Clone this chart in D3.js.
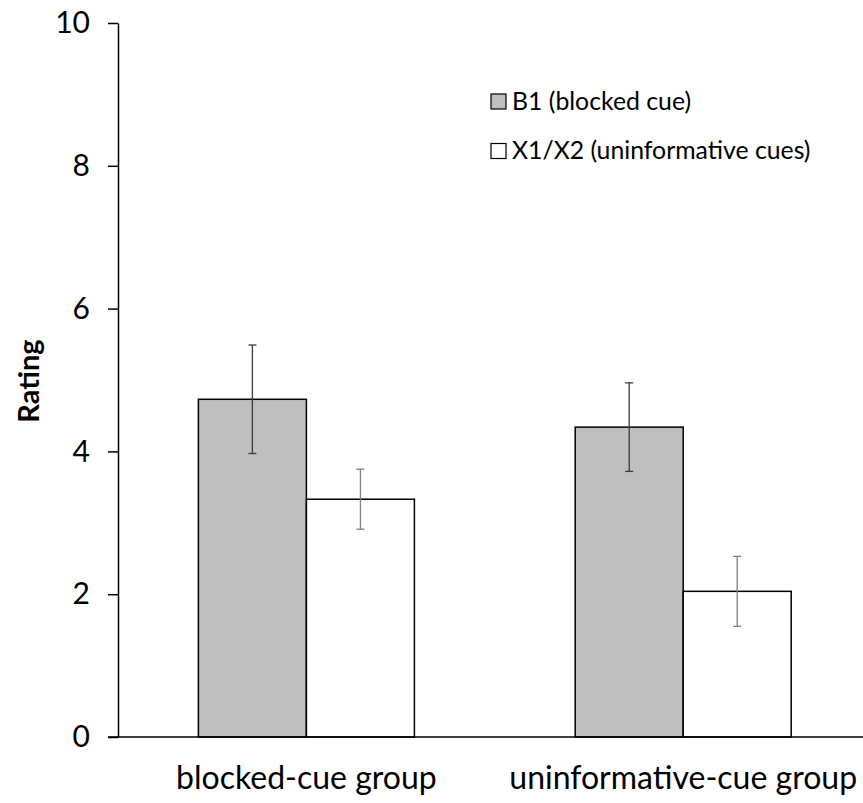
<!DOCTYPE html>
<html><head><meta charset="utf-8">
<script src="https://cdn.jsdelivr.net/npm/d3@7"></script>
<style>body{margin:0;background:#fff}svg{display:block}text{font-family:Lato,"Open Sans",sans-serif;fill:#000}</style>
</head><body>
<script>
const categories = ["blocked-cue group", "uninformative-cue group"];
const seriesNames = ["B1 (blocked cue)", "X1/X2 (uninformative cues)"];
const b1Values = [4.73, 4.34];
const b1Errors = [0.76, 0.62];
const xValues = [3.33, 2.04];
const xErrors = [0.42, 0.49];
const yTicks = [0, 2, 4, 6, 8, 10];
const yLabel = "Rating";

(function () {
const W = 863, H = 803;
const svg = d3.select("body").append("svg").attr("width", W).attr("height", H);
const mLeft = 118, mRight = 871.6, mTop = 23, mBottom = 737;

const x = d3.scaleBand().domain(categories).range([mLeft, mRight]).paddingInner(0).paddingOuter(0);
const y = d3.scaleLinear().domain([0, 10]).range([mBottom, mTop]);
const barW = 108;
const inner = d3.scaleBand().domain(seriesNames).range([-barW, barW]);

const data = [];
categories.forEach((c, i) => {
  data.push({cat: c, s: seriesNames[0], v: b1Values[i], e: b1Errors[i], fill: "#bfbfbf", ec: "#3a3a3a"});
  data.push({cat: c, s: seriesNames[1], v: xValues[i], e: xErrors[i], fill: "#ffffff", ec: "#808080"});
});

const g = svg.append("g");
g.selectAll("rect.bar").data(data).enter().append("rect")
  .attr("x", d => x(d.cat) + x.bandwidth() / 2 + inner(d.s))
  .attr("width", inner.bandwidth())
  .attr("y", d => y(d.v))
  .attr("height", d => y(0) - y(d.v))
  .attr("fill", d => d.fill).attr("stroke", "#000").attr("stroke-width", 1.5);

const eb = g.selectAll("g.err").data(data).enter().append("g")
  .attr("stroke", d => d.ec).attr("stroke-width", 1.3);
const cx = d => x(d.cat) + x.bandwidth() / 2 + inner(d.s) + inner.bandwidth() / 2;
eb.append("line").attr("x1", cx).attr("x2", cx).attr("y1", d => y(d.v + d.e)).attr("y2", d => y(d.v - d.e));
eb.append("line").attr("x1", d => cx(d) - 4).attr("x2", d => cx(d) + 4).attr("y1", d => y(d.v + d.e)).attr("y2", d => y(d.v + d.e));
eb.append("line").attr("x1", d => cx(d) - 4).attr("x2", d => cx(d) + 4).attr("y1", d => y(d.v - d.e)).attr("y2", d => y(d.v - d.e));

const ya = svg.append("g").attr("transform", `translate(${mLeft},0)`)
  .call(d3.axisLeft(y).tickValues(yTicks).tickSize(10).tickPadding(18).tickSizeOuter(0));
ya.select(".domain").attr("stroke", "#000").attr("stroke-width", 1.5);
ya.selectAll(".tick line").attr("stroke", "#000").attr("stroke-width", 1.5);
ya.selectAll(".tick text").style("font-size", "30px").style("font-family", "Lato");

svg.append("line").attr("x1", 108).attr("x2", W).attr("y1", y(0)).attr("y2", y(0))
  .attr("stroke", "#000").attr("stroke-width", 1.5);

svg.selectAll("text.cat").data(categories).enter().append("text")
  .attr("x", d => x(d) + x.bandwidth() / 2).attr("y", 789)
  .attr("text-anchor", "middle").style("font-size", "32px").text(d => d);

svg.append("text").attr("transform", "translate(39,381) rotate(-90)")
  .attr("text-anchor", "middle").style("font-size", "29px").style("font-weight", "bold").text(yLabel);

const legendFills = ["#bfbfbf", "#ffffff"];
const lg = svg.selectAll("g.leg").data(seriesNames).enter().append("g")
  .attr("transform", (d, i) => `translate(491,${94 + i * 49.5})`);
lg.append("rect").attr("width", 15).attr("height", 15)
  .attr("fill", (d, i) => legendFills[i]).attr("stroke", "#000").attr("stroke-width", 1.2);
lg.append("text").attr("x", 21).attr("y", 15.5).style("font-size", "24.8px").text(d => d);
})();
</script>
</body></html>
